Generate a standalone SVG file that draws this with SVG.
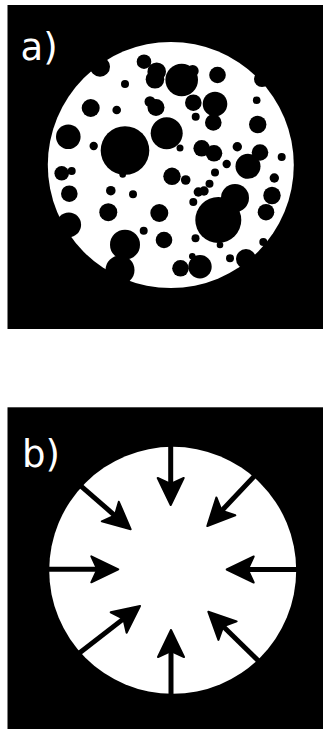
<svg xmlns="http://www.w3.org/2000/svg" width="323" height="729" viewBox="0 0 323 729">
  <style>
    .panel { fill: #000; }
    .disc { fill: #fff; }
    .hole { fill: #000; }
    .label { fill: #fff; font-family: "DejaVu Sans", "Liberation Sans", sans-serif; font-size: 37px; }
    .flow { stroke: #000; stroke-width: 5; fill: none; marker-end: url(#head); }
  </style>
  <defs>
    <marker id="head" markerUnits="userSpaceOnUse" orient="auto" refX="0" refY="0"
            viewBox="-10 -16 36 32" markerWidth="36" markerHeight="32" overflow="visible">
      <path d="M21,0 L-6,-13 L0,0 L-6,13 Z" fill="#000" stroke="#000" stroke-width="2" stroke-linejoin="round"/>
    </marker>
  </defs>

  <!-- Panel a: porous disc -->
  <g id="panel-a">
    <rect class="panel" x="7.5" y="5" width="315.5" height="324"/>
    <circle class="disc" cx="170.8" cy="165" r="123"/>
    <g id="pores">
      <circle class="hole" cx="100" cy="66.7" r="10"/>
      <circle class="hole" cx="144" cy="61.7" r="7.3"/>
      <circle class="hole" cx="156.7" cy="71.7" r="9.3"/>
      <circle class="hole" cx="155" cy="79.3" r="9.3"/>
      <circle class="hole" cx="181.7" cy="80" r="16.3"/>
      <circle class="hole" cx="192.7" cy="71" r="6"/>
      <circle class="hole" cx="217.5" cy="75" r="8.3"/>
      <circle class="hole" cx="125" cy="84" r="4"/>
      <circle class="hole" cx="262" cy="79" r="8"/>
      <circle class="hole" cx="90.7" cy="108" r="9"/>
      <circle class="hole" cx="116.7" cy="110" r="4.3"/>
      <circle class="hole" cx="150" cy="101.7" r="5.5"/>
      <circle class="hole" cx="156" cy="107.5" r="8.5"/>
      <circle class="hole" cx="193.3" cy="102.7" r="8.3"/>
      <circle class="hole" cx="215" cy="104" r="12.3"/>
      <circle class="hole" cx="213.3" cy="122.5" r="8.3"/>
      <circle class="hole" cx="195.7" cy="116.7" r="4"/>
      <circle class="hole" cx="256.7" cy="100.3" r="3.8"/>
      <circle class="hole" cx="257.7" cy="124.5" r="8.7"/>
      <circle class="hole" cx="68.3" cy="136.7" r="12.3"/>
      <circle class="hole" cx="93.7" cy="146" r="4.2"/>
      <circle class="hole" cx="125" cy="150.5" r="24.3"/>
      <circle class="hole" cx="122.7" cy="174.5" r="3.3"/>
      <circle class="hole" cx="166.7" cy="133.3" r="16"/>
      <circle class="hole" cx="180" cy="148" r="3.5"/>
      <circle class="hole" cx="201.7" cy="148.3" r="8.3"/>
      <circle class="hole" cx="214" cy="153.3" r="8.3"/>
      <circle class="hole" cx="237.3" cy="146.7" r="4.7"/>
      <circle class="hole" cx="260" cy="152.5" r="8.3"/>
      <circle class="hole" cx="248" cy="166.3" r="12.5"/>
      <circle class="hole" cx="281.7" cy="157" r="4"/>
      <circle class="hole" cx="226.7" cy="164" r="4.2"/>
      <circle class="hole" cx="215" cy="172.5" r="4"/>
      <circle class="hole" cx="61.7" cy="173.3" r="7.3"/>
      <circle class="hole" cx="71.7" cy="171" r="4"/>
      <circle class="hole" cx="172" cy="176.3" r="8.7"/>
      <circle class="hole" cx="185.7" cy="180" r="4.8"/>
      <circle class="hole" cx="274.3" cy="178" r="4.7"/>
      <circle class="hole" cx="209.5" cy="183.7" r="4"/>
      <circle class="hole" cx="69.3" cy="193.7" r="8.3"/>
      <circle class="hole" cx="110.8" cy="190.7" r="4.8"/>
      <circle class="hole" cx="133" cy="194.2" r="4"/>
      <circle class="hole" cx="198.3" cy="192" r="4.7"/>
      <circle class="hole" cx="204" cy="191" r="4.7"/>
      <circle class="hole" cx="235" cy="198" r="14"/>
      <circle class="hole" cx="272" cy="195.5" r="8.7"/>
      <circle class="hole" cx="193.3" cy="202" r="4"/>
      <circle class="hole" cx="108.3" cy="212.2" r="9"/>
      <circle class="hole" cx="159.3" cy="213" r="9"/>
      <circle class="hole" cx="218.3" cy="220" r="23"/>
      <circle class="hole" cx="220" cy="245" r="3.3"/>
      <circle class="hole" cx="266" cy="212.2" r="8.3"/>
      <circle class="hole" cx="68.8" cy="224.7" r="12.3"/>
      <circle class="hole" cx="143.7" cy="230.8" r="4"/>
      <circle class="hole" cx="125" cy="244.7" r="15"/>
      <circle class="hole" cx="164" cy="240" r="8.3"/>
      <circle class="hole" cx="195.5" cy="238.3" r="4"/>
      <circle class="hole" cx="263.3" cy="242" r="4"/>
      <circle class="hole" cx="246" cy="259" r="10"/>
      <circle class="hole" cx="230" cy="258.3" r="4"/>
      <circle class="hole" cx="120" cy="270" r="14.5"/>
      <circle class="hole" cx="180.5" cy="268.3" r="8.3"/>
      <circle class="hole" cx="200" cy="266.7" r="11.7"/>
      <circle class="hole" cx="192.3" cy="256.3" r="3.3"/>
    </g>
    <text class="label" x="20.5" y="59.5">a)</text>
  </g>

  <!-- Panel b: disc with inward flow arrows -->
  <g id="panel-b">
    <rect class="panel" x="7.5" y="407.3" width="315.5" height="321.7"/>
    <circle class="disc" cx="172.7" cy="570.3" r="123.5"/>
    <text class="label" x="22" y="466.7">b)</text>
  </g>

  <g id="connectors">
    <line class="flow" x1="170.7" y1="443" x2="170.7" y2="484"/>
    <line class="flow" x1="45" y1="569.3" x2="97.3" y2="569.3"/>
    <line class="flow" x1="300" y1="569.5" x2="247.7" y2="569.5"/>
    <line class="flow" x1="171" y1="697" x2="171" y2="651"/>
    <line class="flow" x1="78.7" y1="484.1" x2="114.85" y2="515.52"/>
    <line class="flow" x1="255.0" y1="475.4" x2="221.71" y2="510.73"/>
    <line class="flow" x1="77.8" y1="654.2" x2="123.4" y2="618.86"/>
    <line class="flow" x1="259.6" y1="662.1" x2="223.27" y2="626.43"/>
  </g>
</svg>
